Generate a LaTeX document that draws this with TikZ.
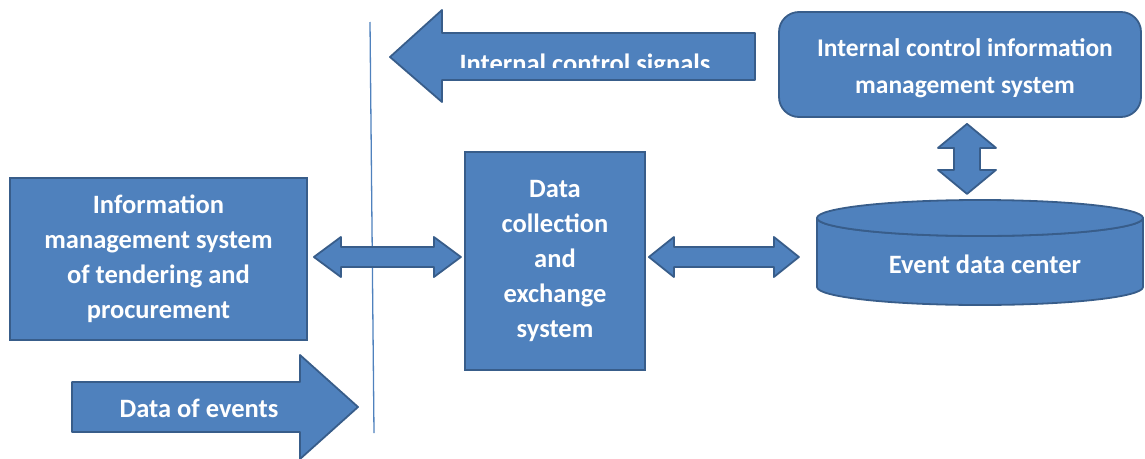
\documentclass[tikz,border=0pt]{standalone}
\usepackage{fontspec}
\setmainfont{Carlito}
\usetikzlibrary{calc}
\definecolor{boxfill}{RGB}{79,129,189}
\definecolor{boxline}{RGB}{56,93,138}

\begin{document}
\begin{tikzpicture}[x=1pt,y=-1pt,
	box/.style={draw=boxline, line width=1.8pt, fill=boxfill, text=white, inner sep=0pt,
		font=\bfseries\fontsize{26.5}{35}\selectfont, align=center},
	label/.style={text=white, inner sep=0pt, font=\bfseries\fontsize{26.5}{35}\selectfont, align=center},
	blockarrow/.style={draw=boxline, line width=1.8pt, fill=boxfill, line join=round}]
	\useasboundingbox (0,0) rectangle (1145,458);
	% divider line
	\coordinate (divtop) at (370,22);
	\coordinate (divbot) at (374,433);
	\draw[boxfill, line width=1.3pt] (divtop) -- (divbot);
	% boxes
	\node (tender) at (158.5,259)	[box, minimum width=297pt, minimum height=162pt]	{Information\\management system\\of tendering and\\procurement};
	\node (dces) at (555,261)	[box, minimum width=180pt, minimum height=218pt]	{Data\\collection\\and\\exchange\\system};
	\node (icims) at (960,64.5)	[box, rounded corners=20pt, minimum width=362pt, minimum height=105pt]	{};
	\node (icimstext) at ($(icims.center)+(5,4)$)	[label, font=\bfseries\fontsize{25.5}{37}\selectfont]	{Internal control information\\management system};
	% event data center
	\draw[blockarrow] (817,218) -- (817,287) arc[start angle=180, end angle=0, x radius=163, y radius=18]
		-- (1143,218) arc[start angle=0, end angle=180, x radius=163, y radius=18] -- cycle;
	\draw[blockarrow] (980,218) ellipse [x radius=163, y radius=18];
	\node (edc) at (985,264)	[label]	{Event data center};
	% double arrows
	\coordinate (a1) at ($(tender.east)+(6,-2)$);
	\draw[blockarrow] (a1) -- ++(27,-20) -- ++(0,10) -- ++(93,0) -- ++(0,-10) -- ++(27,20)
		-- ++(-27,20) -- ++(0,-10) -- ++(-93,0) -- ++(0,10) -- cycle;
	\coordinate (a2) at ($(dces.east)+(3,-4)$);
	\draw[blockarrow] (a2) -- ++(25,-20) -- ++(0,10) -- ++(100,0) -- ++(0,-10) -- ++(25,20)
		-- ++(-25,20) -- ++(0,-10) -- ++(-100,0) -- ++(0,10) -- cycle;
	\coordinate (a3) at ($(icims.south)+(7,6)$);
	\draw[blockarrow] (a3) -- ++(29,24) -- ++(-16,0) -- ++(0,22) -- ++(16,0) -- ++(-29,24)
		-- ++(-29,-24) -- ++(16,0) -- ++(0,-22) -- ++(-16,0) -- cycle;
	% internal control signals
	\coordinate (sigtip) at (390,57);
	\draw[blockarrow] (sigtip) -- (442,10) -- (442,33) -- (755,33) -- (755,80) -- (442,80) -- (442,102) -- cycle;
	\begin{scope}
		\clip (442,33) rectangle (755,67.5);
		\node (sig) at (585,72)	[label, anchor=base]	{Internal control signals};
	\end{scope}
	% data of events
	\coordinate (evtip) at (358,407);
	\draw[blockarrow] (evtip) -- (300,355) -- (300,382) -- (72,382) -- (72,432) -- (300,432) -- (300,459) -- cycle;
	\node (ev) at (199,408)	[label]	{Data of events};
\end{tikzpicture}
\end{document}
